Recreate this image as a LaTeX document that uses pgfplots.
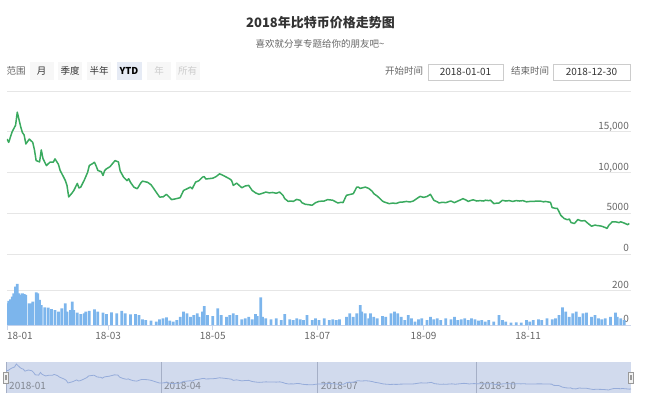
\documentclass[border=0pt]{standalone}
\usepackage{fontspec}
\setmainfont{Noto Sans CJK SC}
\usepackage{pgfplots}
\usepackage{pgfplotstable}
\pgfplotsset{compat=1.18}
\definecolor{pricegreen}{RGB}{58,170,95}
\definecolor{volblue}{RGB}{124,181,236}
\definecolor{gridc}{RGB}{230,230,230}
\definecolor{labc}{RGB}{102,102,102}
\definecolor{darkt}{RGB}{51,51,51}
\definecolor{navmask}{RGB}{209,218,237}
\definecolor{navline}{RGB}{150,172,218}
\definecolor{navgrid}{RGB}{165,175,198}
\definecolor{navlab}{RGB}{130,135,145}
\definecolor{axisc}{RGB}{204,214,235}
\definecolor{btnbg}{RGB}{247,247,247}
\definecolor{btnsel}{RGB}{230,235,245}
\definecolor{btndis}{RGB}{204,204,204}
\definecolor{boxc}{RGB}{204,204,204}
\definecolor{hdlbg}{RGB}{242,242,242}
\definecolor{hdlc}{RGB}{153,153,153}

\pgfplotstableread{
d v
0 14100
1 13700
3 15000
5 15800
6 17400
8 15600
9 14900
10 14600
11 13500
13 14100
15 13700
16 12800
17 11460
19 11300
20 12770
21 11700
23 10850
25 11260
27 11260
28 11670
30 11000
31 10250
33 9450
34 9030
35 8400
36 7000
38 7500
39 7800
41 8660
42 8100
43 8200
45 9030
47 10000
48 10860
50 11100
51 11260
52 10800
53 10250
55 10100
56 9640
57 10250
58 10450
60 10700
62 11200
63 11460
65 11300
66 10200
68 9430
70 9000
71 9230
72 8800
74 8210
75 8100
76 8010
78 8700
79 8940
82 8800
84 8500
85 8210
87 7600
89 6990
91 7000
93 7320
95 6900
96 6670
99 6800
101 6910
103 7800
105 8000
107 8210
108 8000
110 8820
112 9000
114 9430
115 9500
116 9200
118 9250
120 9300
122 9500
124 9840
126 9650
128 9430
130 9200
131 9030
132 8420
134 8700
135 8500
137 8130
139 8350
141 8420
143 7800
145 7500
147 7320
149 7450
151 7600
153 7500
155 7550
157 7450
159 7600
161 7200
162 6800
164 6460
166 6500
167 6450
169 6700
171 6590
172 6300
174 6100
176 6050
178 5980
180 6300
182 6460
185 6500
187 6670
190 6600
193 6260
195 6350
196 6300
198 7200
200 7300
202 7400
204 8200
205 8210
206 8050
209 8210
211 8050
213 7700
214 7400
216 7100
217 6910
219 6500
220 6380
223 6180
225 6250
227 6200
229 6350
231 6380
233 6450
235 6380
237 6500
239 6790
241 7070
243 6950
245 7050
247 7320
249 6590
251 6400
252 6260
254 6350
256 6300
258 6450
259 6500
261 6300
263 6500
264 6590
266 6790
268 6600
269 6450
271 6600
272 6650
274 6500
276 6550
278 6500
279 6600
281 6550
282 6600
284 6180
286 6250
287 6250
289 6590
291 6500
293 6550
295 6450
297 6550
299 6500
301 6550
303 6400
305 6450
307 6450
309 6500
311 6500
313 6400
314 6450
317 6340
318 5690
320 5600
321 5600
322 5200
323 4760
325 4350
327 4200
328 4300
329 3860
331 3740
333 4230
335 4050
337 4100
339 3740
341 3410
343 3550
344 3500
346 3450
347 3400
349 3250
350 3130
351 3500
353 3940
355 3950
357 3850
358 3950
360 3800
362 3600
363 3740
}\price

\pgfplotstableread{
d v
0 126
1 140
2 150
3 165
4 184
5 223
6 239
7 184
8 175
9 184
10 180
11 175
13 126
14 126
15 136
17 190
18 184
19 146
20 116
22 103
24 101
26 93
28 87
30 78
32 97
34 126
35 78
37 87
38 136
39 87
41 72
43 64
45 68
46 78
48 83
51 91
53 78
56 72
58 64
61 74
64 68
67 83
69 68
72 62
75 64
77 58
79 33
81 29
84 25
87 19
89 33
91 39
93 45
95 25
97 19
99 29
101 48
103 78
105 68
107 48
109 58
111 68
112 48
114 78
115 110
117 58
120 52
123 97
125 58
128 48
130 58
132 68
134 58
137 33
139 39
141 48
143 33
145 64
146 52
148 161
149 48
151 39
154 33
157 39
160 29
162 64
165 33
167 29
169 39
171 33
173 29
175 58
178 29
180 39
182 29
185 39
188 29
190 33
192 29
194 33
198 48
200 68
202 48
204 68
206 116
207 78
209 68
211 39
212 68
214 48
216 39
219 52
221 48
224 68
226 78
228 68
230 48
232 29
234 58
236 39
238 19
240 33
242 39
245 29
247 48
249 33
251 39
253 29
256 39
259 33
261 48
263 29
265 33
267 39
269 29
271 39
273 33
275 25
277 29
279 19
281 29
284 19
287 58
289 29
291 19
294 14
297 16
300 14
303 29
305 19
307 29
310 33
312 29
315 39
318 33
320 39
322 58
324 103
326 78
328 48
330 68
332 78
334 48
336 68
338 72
341 48
343 58
345 39
347 33
349 39
352 48
355 72
356 48
358 39
360 29
}\volume

\begin{document}
\begin{tikzpicture}
\useasboundingbox (0pt,0pt) rectangle (650pt,408pt);
% titles
\node[font=\bfseries\fontsize{13}{15}\selectfont, text=darkt] at (320.5pt,385.3pt) {2018年比特币价格走势图};
\node[font=\fontsize{9.5}{11}\selectfont, text=labc] at (320pt,363.7pt) {喜欢就分享专题给你的朋友吧\textasciitilde};
% range selector
\node[font=\fontsize{9.5}{11}\selectfont, text=labc] at (16pt,337pt) {范围};
\fill[btnbg] (29.5pt,328pt) rectangle (53.5pt,346pt);
\node[font=\fontsize{9.5}{11}\selectfont, text=darkt] at (41.5pt,337pt) {月};
\fill[btnbg] (58pt,328pt) rectangle (82pt,346pt);
\node[font=\fontsize{9.5}{11}\selectfont, text=darkt] at (70pt,337pt) {季度};
\fill[btnbg] (87pt,328pt) rectangle (111pt,346pt);
\node[font=\fontsize{9.5}{11}\selectfont, text=darkt] at (99pt,337pt) {半年};
\fill[btnsel] (116.5pt,328pt) rectangle (141.5pt,346pt);
\node[font=\bfseries\fontsize{9.5}{11}\selectfont, text=black] at (129pt,337pt) {YTD};
\fill[btnbg] (147pt,328pt) rectangle (171pt,346pt);
\node[font=\fontsize{9.5}{11}\selectfont, text=btndis] at (159pt,337pt) {年};
\fill[btnbg] (175.5pt,328pt) rectangle (199.5pt,346pt);
\node[font=\fontsize{9.5}{11}\selectfont, text=btndis] at (187.5pt,337pt) {所有};
% date inputs
\node[font=\fontsize{9.5}{11}\selectfont, text=labc] at (404pt,337pt) {开始时间};
\draw[boxc, line width=0.6pt] (428pt,328pt) rectangle (503pt,344pt);
\node[font=\fontsize{10}{12}\selectfont, text=darkt] at (465.5pt,336pt) {2018-01-01};
\node[font=\fontsize{9.5}{11}\selectfont, text=labc] at (530pt,337pt) {结束时间};
\draw[boxc, line width=0.6pt] (553pt,328pt) rectangle (630pt,344pt);
\node[font=\fontsize{10}{12}\selectfont, text=darkt] at (591.5pt,336pt) {2018-12-30};

% main price pane
\begin{axis}[at={(7pt,154pt)}, anchor=south west, scale only axis,
  width=624pt, height=163pt,
  xmin=0, xmax=364, ymin=0, ymax=20000,
  axis line style={draw=none},
  xtick=\empty,
  ytick={0,5000,10000,15000,20000},
  yticklabels={0,5000,{10,000},{15,000},{}},
  scaled y ticks=false,
  ymajorgrids, grid style={draw=gridc, line width=0.8pt},
  yticklabel pos=right,
  ytick style={draw=none},
  yticklabel style={anchor=base east, inner sep=0pt, xshift=-2pt, yshift=2.5pt,
     font=\fontsize{10}{12}\selectfont, text=labc},
  /pgf/number format/assume math mode=true]
\addplot[pricegreen, line width=1.5pt, line join=round] table[x=d,y=v]{\price};
\end{axis}

% volume pane
\begin{axis}[at={(7pt,83pt)}, anchor=south west, scale only axis,
  width=624pt, height=42.9pt,
  xmin=0, xmax=364, ymin=0, ymax=250,
  axis x line*=bottom, axis y line*=right,
  x axis line style={draw=axisc, line width=0.8pt, -},
  y axis line style={draw=none},
  xtick={0,59,120,181,243,304},
  xticklabels={\rlap{18-01},18-03,18-05,18-07,18-09,18-11},
  xtick align=outside, major tick length=5pt,
  xtick style={draw=axisc, line width=0.8pt},
  xticklabel style={anchor=base, yshift=-9pt, font=\fontsize{10}{12}\selectfont, text=labc},
  ytick={0,200},
  yticklabels={0,200},
  scaled y ticks=false,
  ymajorgrids, grid style={draw=gridc, line width=0.8pt},
  ytick style={draw=none},
  yticklabel style={anchor=base east, inner sep=0pt, xshift=-2pt, yshift=2.5pt,
     font=\fontsize{10}{12}\selectfont, text=labc},
  /pgf/number format/assume math mode=true]
\addplot[ybar, bar width=1.6, fill=volblue, draw=none] table[x=d,y=v]{\volume};
\end{axis}

% navigator
\begin{axis}[at={(6pt,15pt)}, anchor=south west, scale only axis,
  width=625pt, height=31pt,
  xmin=0, xmax=363, ymin=1480, ymax=18500,
  axis background/.style={fill=navmask},
  axis line style={draw=none},
  ytick=\empty,
  xtick={0,90,181,273},
  xticklabels={2018-01,2018-04,2018-07,2018-10},
  xmajorgrids, grid style={draw=navgrid, line width=0.6pt},
  xtick style={draw=none},
  xticklabel style={anchor=base west, inner sep=0pt, xshift=3pt, yshift=4pt,
     font=\fontsize{10}{12}\selectfont, text=navlab},
  /pgf/number format/assume math mode=true]
\addplot[navline, line width=0.8pt] table[x=d,y=v]{\price};
\end{axis}
% navigator handles
\draw[fill=hdlbg, draw=hdlc, line width=0.6pt] (3.5pt,25pt) rectangle (8.5pt,36pt);
\draw[hdlc, line width=0.5pt] (5.3pt,28pt) -- (5.3pt,33pt) (6.7pt,28pt) -- (6.7pt,33pt);
\draw[fill=hdlbg, draw=hdlc, line width=0.6pt] (628.5pt,25pt) rectangle (633.5pt,36pt);
\draw[hdlc, line width=0.5pt] (630.3pt,28pt) -- (630.3pt,33pt) (631.7pt,28pt) -- (631.7pt,33pt);
\end{tikzpicture}
\end{document}
